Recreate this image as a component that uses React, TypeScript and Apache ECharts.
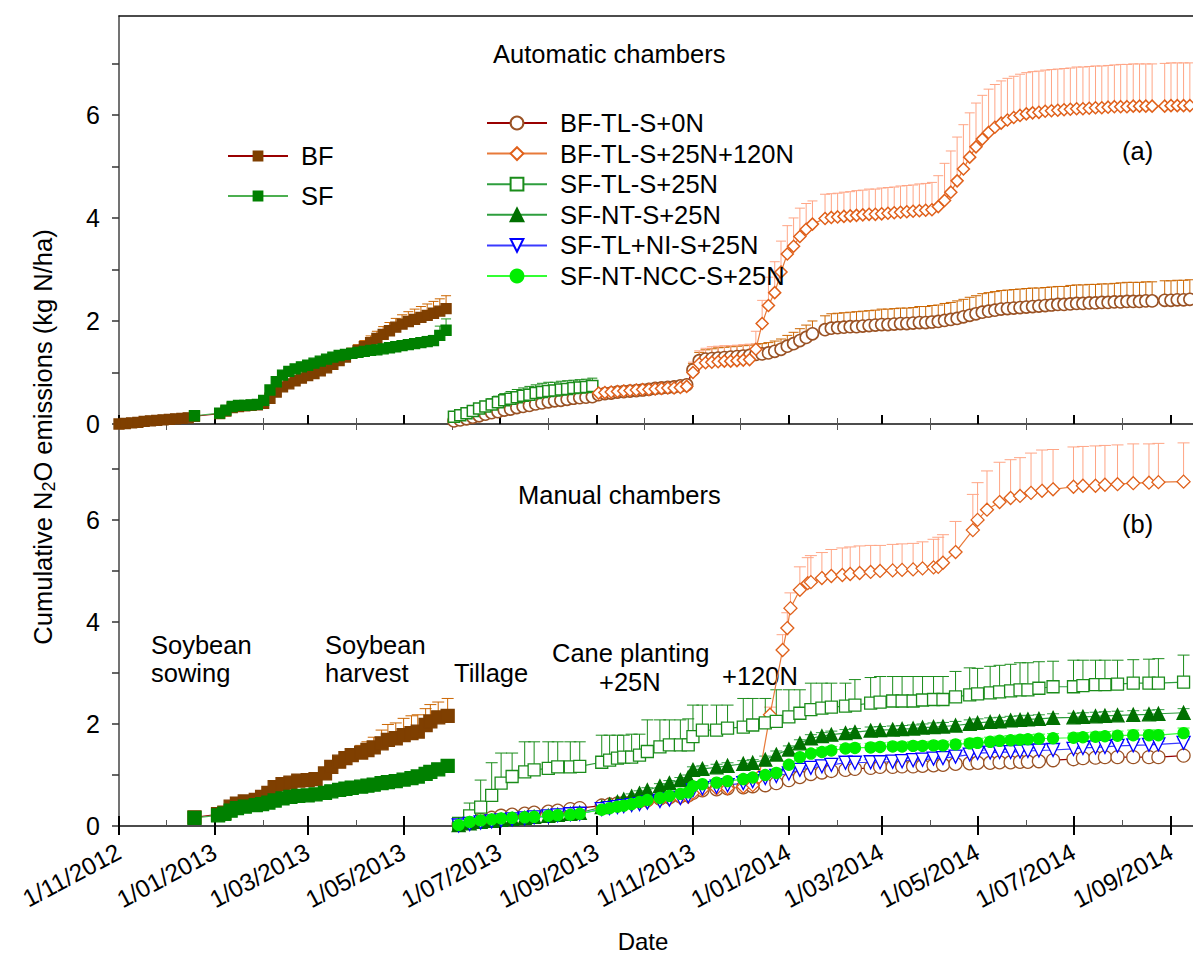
import React, { useEffect, useRef } from 'react';
import * as echarts from 'echarts';

type Pt = [string, number, number];
type V = number | null;

const FONT = 'Liberation Sans';

// ---------- axes ----------
const xStart = '2012-11-01';
const xEnd = '2014-09-15';
const majorTickDates = ['2012-11-01', '2013-01-01', '2013-03-01', '2013-05-01', '2013-07-01', '2013-09-01', '2013-11-01', '2014-01-01', '2014-03-01', '2014-05-01', '2014-07-01', '2014-09-01'];
const tickLabels = ['1/11/2012', '1/01/2013', '1/03/2013', '1/05/2013', '1/07/2013', '1/09/2013', '1/11/2013', '1/01/2014', '1/03/2014', '1/05/2014', '1/07/2014', '1/09/2014'];
const minorTickDates = ['2012-12-01', '2013-02-01', '2013-04-01', '2013-06-01', '2013-08-01', '2013-10-01', '2013-12-01', '2014-02-01', '2014-04-01', '2014-06-01', '2014-08-01'];
const yTicks = [0, 1, 2, 3, 4, 5, 6, 7];
const yLabels = [0, 2, 4, 6];
const yMaxTop = 7.92;
const yMaxBottom = 7.88;

// ---------- (a) automatic chambers: logged every 4 days ----------
const autoStepDays = 4;
const autoStart1 = '2012-11-01';
const autoBFVals: V[] = [
  0.0, 0.01, 0.02, 0.03, 0.05, 0.06, 0.07, 0.08, 0.09, 0.1, 0.11, 0.12,
  0.15, null, null, null,
  0.2, 0.25, 0.32, 0.34, 0.35, 0.36, 0.37,
  0.4, 0.5, 0.62, 0.72, 0.78, 0.84, 0.89,
  0.94, 0.98, 1.03, 1.09, 1.16, 1.23, 1.3, 1.37,
  1.43, 1.5, 1.58, 1.66, 1.74, 1.81, 1.88, 1.94,
  1.99, 2.03, 2.07, 2.11, 2.15, 2.19, 2.24,
];
const autoBFErr: number[] = [
  0.01, 0.01, 0.01, 0.01, 0.01, 0.01, 0.01, 0.01, 0.02, 0.02, 0.02, 0.02,
  0.02, 0, 0, 0,
  0.02, 0.02, 0.03, 0.03, 0.03, 0.03, 0.03,
  0.03, 0.03, 0.04, 0.04, 0.04, 0.05, 0.05,
  0.05, 0.05, 0.06, 0.06, 0.07, 0.08, 0.09, 0.1,
  0.11, 0.12, 0.13, 0.14, 0.15, 0.16, 0.17, 0.18,
  0.19, 0.2, 0.21, 0.22, 0.23, 0.24, 0.25,
];
const autoSFVals: V[] = [
  null, null, null, null, null, null, null, null, null, null, null, null,
  0.16, null, null, null,
  0.21, 0.27, 0.34, 0.36, 0.36, 0.37, 0.38,
  0.46, 0.66, 0.82, 0.95, 1.02, 1.07, 1.11,
  1.14, 1.18, 1.22, 1.26, 1.3, 1.33, 1.35, 1.37,
  1.39, 1.41, 1.43, 1.44, 1.46, 1.48, 1.5, 1.52,
  1.54, 1.56, 1.58, 1.6, 1.62, 1.72, 1.82,
];
const autoSFErr: number[] = [
  0, 0, 0, 0, 0, 0, 0, 0, 0, 0, 0, 0,
  0.02, 0, 0, 0,
  0.02, 0.03, 0.03, 0.03, 0.03, 0.03, 0.03,
  0.04, 0.05, 0.05, 0.06, 0.06, 0.06, 0.06,
  0.06, 0.06, 0.06, 0.06, 0.06, 0.06, 0.06, 0.06,
  0.06, 0.06, 0.07, 0.07, 0.07, 0.07, 0.08, 0.08,
  0.08, 0.09, 0.09, 0.1, 0.1, 0.18, 0.22,
];

const autoStart2 = '2013-06-02';
const autoBF0Vals: V[] = [
  0.06, 0.08, 0.1, 0.13, 0.16, 0.19, 0.22, 0.24, 0.27, 0.29, 0.32, 0.34, 0.36, 0.39, 0.41, 0.43, 0.45, 0.46, 0.48, 0.5, 0.51, 0.52, 0.53,
  0.57, 0.59, 0.6, 0.62, 0.63, 0.64, 0.65, 0.66, 0.67, 0.69, 0.7, 0.71, 0.72, 0.74, 0.76,
  1.05, 1.23, 1.26, 1.27, 1.28, 1.29, 1.3, 1.31, 1.32, 1.33, 1.35, 1.36, 1.38, 1.41, 1.45, 1.51,
  1.56, 1.62, 1.68, 1.75, null, 1.83, 1.86,
  1.87, 1.88, 1.89, 1.89, 1.9, 1.91, 1.92, 1.93, 1.93, 1.94, 1.95, 1.95, 1.96, 1.97, 1.97,
  1.98, 1.99, 2.01, 2.03, 2.05, 2.08, 2.11, 2.14, 2.17, 2.19, 2.21, 2.23, 2.24, 2.25, 2.26,
  2.27, 2.28, 2.29, 2.3, 2.31, 2.32, 2.32, 2.33, 2.34, 2.34, 2.35, 2.35, 2.36, 2.36, 2.37, 2.37,
  2.38, 2.38, 2.38, 2.39, 2.39, null, 2.4, 2.4, 2.41, 2.41, 2.42,
];
const autoBF0Err: number[] = [
  0.02, 0.02, 0.02, 0.03, 0.03, 0.03, 0.03, 0.03, 0.04, 0.04, 0.04, 0.04, 0.04, 0.04, 0.05, 0.05, 0.05, 0.05, 0.05, 0.05, 0.05, 0.05, 0.05,
  0.06, 0.06, 0.06, 0.06, 0.06, 0.06, 0.06, 0.06, 0.07, 0.07, 0.07, 0.07, 0.07, 0.07, 0.07,
  0.12, 0.16, 0.18, 0.19, 0.2, 0.2, 0.2, 0.2, 0.2, 0.2, 0.2, 0.2, 0.2, 0.2, 0.2, 0.21,
  0.22, 0.23, 0.24, 0.25, 0, 0.27, 0.28,
  0.28, 0.28, 0.28, 0.29, 0.29, 0.29, 0.29, 0.3, 0.3, 0.3, 0.3, 0.3, 0.3, 0.31, 0.31,
  0.32, 0.32, 0.33, 0.33, 0.34, 0.34, 0.35, 0.35, 0.36, 0.36, 0.36, 0.36, 0.36, 0.36, 0.36,
  0.36, 0.36, 0.35, 0.35, 0.35, 0.35, 0.35, 0.36, 0.36, 0.36, 0.36, 0.36, 0.36, 0.36, 0.36, 0.37,
  0.37, 0.37, 0.37, 0.37, 0.37, 0, 0.38, 0.38, 0.38, 0.38, 0.38,
];
const autoBF145Vals: V[] = [
  null, null, null, null, null, null, null, null, null, null, null, null, null, null, null, null, null, null, null, null, null, null, null,
  0.6, 0.61, 0.62, 0.63, 0.64, 0.65, 0.66, 0.67, 0.67, 0.68, 0.69, 0.7, 0.7, 0.71, 0.73,
  1.0, 1.17, 1.19, 1.2, 1.21, 1.22, 1.22, 1.23, 1.24, 1.25, 1.45, 1.95, 2.3, 2.55, 2.95, 3.3,
  3.45, 3.64, 3.78, 3.88, null, 3.99, 4.01,
  4.02, 4.03, 4.04, 4.05, 4.06, 4.07, 4.07, 4.08, 4.09, 4.1, 4.11, 4.12, 4.13, 4.14, 4.15,
  4.16, 4.22, 4.34, 4.5, 4.72, 4.95, 5.18, 5.38, 5.53, 5.66, 5.76, 5.84, 5.9, 5.95, 5.99,
  6.02, 6.04, 6.05, 6.07, 6.08, 6.09, 6.1, 6.11, 6.12, 6.12, 6.13, 6.14, 6.14, 6.15, 6.16, 6.16,
  6.16, 6.17, 6.17, 6.17, 6.17, null, 6.17, 6.18, 6.18, 6.18, 6.18,
];
const autoBF145Err: number[] = [
  0, 0, 0, 0, 0, 0, 0, 0, 0, 0, 0, 0, 0, 0, 0, 0, 0, 0, 0, 0, 0, 0, 0,
  0.08, 0.08, 0.08, 0.08, 0.08, 0.08, 0.08, 0.08, 0.09, 0.09, 0.09, 0.09, 0.09, 0.09, 0.09,
  0.2, 0.25, 0.28, 0.3, 0.3, 0.3, 0.3, 0.3, 0.3, 0.3, 0.35, 0.45, 0.55, 0.6, 0.6, 0.55,
  0.55, 0.55, 0.5, 0.45, 0, 0.47, 0.46,
  0.46, 0.47, 0.47, 0.48, 0.48, 0.49, 0.49, 0.5, 0.5, 0.5, 0.51, 0.51, 0.51, 0.52, 0.52,
  0.53, 0.6, 0.72, 0.8, 0.85, 0.86, 0.86, 0.85, 0.85, 0.84, 0.83, 0.82, 0.81, 0.8, 0.8,
  0.8, 0.8, 0.8, 0.8, 0.8, 0.8, 0.8, 0.8, 0.81, 0.81, 0.81, 0.81, 0.81, 0.81, 0.81, 0.82,
  0.82, 0.82, 0.82, 0.82, 0.82, 0, 0.83, 0.83, 0.83, 0.83, 0.83,
];
const autoSF25Vals: V[] = [
  0.14, 0.17, 0.21, 0.25, 0.3, 0.34, 0.38, 0.42, 0.46, 0.49, 0.52, 0.55, 0.57, 0.6, 0.62, 0.64, 0.65, 0.67, 0.68, 0.7, 0.71, 0.72, 0.74,
];
const autoSF25Err: number[] = [
  0.05, 0.06, 0.07, 0.08, 0.09, 0.1, 0.11, 0.12, 0.13, 0.14, 0.15, 0.15, 0.16, 0.16, 0.17, 0.17, 0.16, 0.16, 0.16, 0.15, 0.15, 0.15, 0.15,
];

// ---------- (b) manual chambers ----------
const manBF: Pt[] = [
  ['2012-12-19', 0.17, 0.02], ['2013-01-03', 0.23, 0.02], ['2013-01-07', 0.26, 0.02], ['2013-01-11', 0.38, 0.02],
  ['2013-01-15', 0.44, 0.02], ['2013-01-20', 0.48, 0.02], ['2013-01-27', 0.51, 0.02], ['2013-01-31', 0.57, 0.03],
  ['2013-02-04', 0.65, 0.03], ['2013-02-08', 0.76, 0.03], ['2013-02-13', 0.82, 0.03], ['2013-02-18', 0.85, 0.03],
  ['2013-02-23', 0.89, 0.04], ['2013-03-01', 0.9, 0.04], ['2013-03-06', 0.92, 0.05], ['2013-03-12', 1.03, 0.06],
  ['2013-03-16', 1.16, 0.08], ['2013-03-21', 1.26, 0.1], ['2013-03-25', 1.33, 0.12], ['2013-03-29', 1.39, 0.12],
  ['2013-04-04', 1.44, 0.14], ['2013-04-08', 1.49, 0.16], ['2013-04-12', 1.54, 0.2], ['2013-04-17', 1.62, 0.26],
  ['2013-04-21', 1.69, 0.3], ['2013-04-26', 1.72, 0.3], ['2013-05-01', 1.78, 0.33], ['2013-05-06', 1.82, 0.34],
  ['2013-05-10', 1.85, 0.33], ['2013-05-15', 1.98, 0.32], ['2013-05-18', 2.05, 0.33], ['2013-05-23', 2.13, 0.3],
  ['2013-05-29', 2.16, 0.34],
];
const manSF: Pt[] = [
  ['2012-12-19', 0.16, 0.01], ['2013-01-03', 0.21, 0.01], ['2013-01-07', 0.24, 0.01], ['2013-01-11', 0.3, 0.01],
  ['2013-01-15', 0.35, 0.02], ['2013-01-20', 0.38, 0.02], ['2013-01-27', 0.41, 0.02], ['2013-01-31', 0.43, 0.02],
  ['2013-02-04', 0.46, 0.02], ['2013-02-08', 0.5, 0.02], ['2013-02-13', 0.54, 0.02], ['2013-02-18', 0.57, 0.02],
  ['2013-02-23', 0.59, 0.02], ['2013-03-01', 0.6, 0.02], ['2013-03-06', 0.62, 0.02], ['2013-03-12', 0.65, 0.02],
  ['2013-03-16', 0.68, 0.02], ['2013-03-21', 0.71, 0.03], ['2013-03-25', 0.73, 0.03], ['2013-03-29', 0.75, 0.03],
  ['2013-04-04', 0.77, 0.03], ['2013-04-08', 0.79, 0.03], ['2013-04-12', 0.81, 0.03], ['2013-04-17', 0.84, 0.03],
  ['2013-04-21', 0.86, 0.03], ['2013-04-26', 0.88, 0.03], ['2013-05-01', 0.91, 0.03], ['2013-05-06', 0.94, 0.03],
  ['2013-05-10', 0.97, 0.03], ['2013-05-15', 1.02, 0.03], ['2013-05-18', 1.06, 0.03], ['2013-05-23', 1.11, 0.03],
  ['2013-05-29', 1.18, 0.03],
];

const manDates = [
  '2013-06-05', '2013-06-12', '2013-06-19', '2013-06-26', '2013-07-02', '2013-07-09', '2013-07-17', '2013-07-23', '2013-08-01', '2013-08-07', '2013-08-15', '2013-08-21',
  '2013-09-04', '2013-09-09', '2013-09-14', '2013-09-18', '2013-09-23', '2013-09-28', '2013-10-03', '2013-10-11', '2013-10-17', '2013-10-24', '2013-10-29',
  '2013-11-01', '2013-11-07', '2013-11-16', '2013-11-23',
  '2013-12-03', '2013-12-09', '2013-12-17', '2013-12-24',
  '2014-01-01', '2014-01-08', '2014-01-15', '2014-01-22', '2014-01-28',
  '2014-02-06', '2014-02-12', '2014-02-22', '2014-02-28',
  '2014-03-08', '2014-03-14', '2014-03-21', '2014-03-27',
  '2014-04-03', '2014-04-09', '2014-04-17', '2014-04-26',
  '2014-05-01', '2014-05-09', '2014-05-15', '2014-05-22', '2014-05-28',
  '2014-06-02', '2014-06-09', '2014-06-18',
  '2014-07-01', '2014-07-07', '2014-07-15', '2014-07-21', '2014-07-29',
  '2014-08-08', '2014-08-18', '2014-08-24',
  '2014-09-09',
];
const manBF0Vals = [
  0.03, 0.08, 0.12, 0.16, 0.2, 0.22, 0.24, 0.26, 0.28, 0.3, 0.33, 0.35,
  0.4, 0.42, 0.44, 0.45, 0.47, 0.49, 0.51, 0.54, 0.56, 0.58, 0.6,
  0.65, 0.7, 0.72, 0.74,
  0.76, 0.78, 0.8, 0.84,
  0.9, 0.96, 1.02, 1.05, 1.08,
  1.1, 1.12, 1.14, 1.16,
  1.16, 1.17, 1.17, 1.18,
  1.19, 1.2, 1.22, 1.23,
  1.24, 1.24, 1.25, 1.25, 1.26,
  1.26, 1.27, 1.29,
  1.31, 1.33, 1.34, 1.35, 1.35,
  1.35, 1.35, 1.35,
  1.38,
];
const manBF0Err = [
  0.01, 0.02, 0.02, 0.02, 0.02, 0.02, 0.02, 0.02, 0.02, 0.02, 0.02, 0.02,
  0.03, 0.03, 0.03, 0.03, 0.03, 0.03, 0.03, 0.03, 0.03, 0.03, 0.03,
  0.03, 0.04, 0.04, 0.04,
  0.04, 0.04, 0.04, 0.04,
  0.04, 0.04, 0.05, 0.05, 0.05,
  0.05, 0.05, 0.05, 0.05,
  0.05, 0.05, 0.05, 0.05,
  0.05, 0.05, 0.05, 0.05,
  0.05, 0.05, 0.05, 0.05, 0.05,
  0.05, 0.05, 0.05,
  0.05, 0.05, 0.05, 0.05, 0.05,
  0.05, 0.05, 0.05,
  0.05,
];
const manSF25Vals = [
  0.05, 0.2, 0.37, 0.6, 0.84, 0.97, 1.06, 1.1, 1.13, 1.16, 1.16, 1.17,
  1.25, 1.29, 1.33, 1.35, 1.35, 1.39, 1.46, 1.55, 1.59, 1.59, 1.59,
  1.75, 1.88, 1.88, 1.92,
  1.94, 1.98, 2.02, 2.05,
  2.14, 2.21, 2.28, 2.31, 2.33,
  2.35, 2.37, 2.41, 2.43,
  2.45, 2.45, 2.45, 2.47,
  2.48, 2.48, 2.53, 2.57,
  2.59, 2.61, 2.63, 2.65, 2.67,
  2.67, 2.7, 2.73,
  2.73, 2.75, 2.77, 2.77, 2.78,
  2.8, 2.8, 2.8,
  2.82,
];
const manSF25Err = [
  0.05, 0.25, 0.53, 0.64, 0.59, 0.46, 0.59, 0.55, 0.52, 0.49, 0.49, 0.48,
  0.53, 0.49, 0.45, 0.43, 0.45, 0.41, 0.62, 0.53, 0.49, 0.49, 0.51,
  0.62, 0.49, 0.49, 0.45,
  0.56, 0.52, 0.48, 0.62,
  0.53, 0.46, 0.52, 0.49, 0.47,
  0.45, 0.5, 0.5, 0.5,
  0.48, 0.48, 0.48, 0.46,
  0.45, 0.45, 0.5, 0.53,
  0.5, 0.52, 0.52, 0.52, 0.53,
  0.53, 0.52, 0.5,
  0.52, 0.5, 0.48, 0.48, 0.47,
  0.46, 0.47, 0.48,
  0.53,
];
const manNTVals = [
  0.02, 0.05, 0.08, 0.1, 0.12, 0.14, 0.16, 0.18, 0.2, 0.22, 0.24, 0.26,
  0.37, 0.42, 0.47, 0.52, 0.58, 0.64, 0.7, 0.78, 0.84, 0.9, 0.95,
  1.1, 1.12, 1.15, 1.18,
  1.22, 1.24, 1.3, 1.4,
  1.5, 1.62, 1.72, 1.76, 1.79,
  1.82, 1.84, 1.87, 1.88,
  1.89, 1.9, 1.91, 1.93,
  1.94, 1.95, 1.97, 2.0,
  2.02, 2.04, 2.05, 2.07, 2.08,
  2.09, 2.1, 2.12,
  2.13, 2.14, 2.15, 2.16, 2.17,
  2.18, 2.19, 2.2,
  2.22,
];
const manNTErr = [
  0.01, 0.02, 0.02, 0.02, 0.03, 0.03, 0.03, 0.03, 0.03, 0.03, 0.03, 0.03,
  0.04, 0.04, 0.04, 0.04, 0.05, 0.05, 0.05, 0.05, 0.05, 0.05, 0.05,
  0.06, 0.06, 0.06, 0.06,
  0.06, 0.06, 0.07, 0.07,
  0.07, 0.07, 0.07, 0.07, 0.07,
  0.07, 0.07, 0.07, 0.07,
  0.07, 0.07, 0.07, 0.07,
  0.08, 0.08, 0.08, 0.08,
  0.08, 0.08, 0.08, 0.08, 0.08,
  0.08, 0.08, 0.08,
  0.08, 0.08, 0.08, 0.08, 0.08,
  0.08, 0.08, 0.08,
  0.08,
];
const manNIVals = [
  0.01, 0.04, 0.07, 0.09, 0.11, 0.13, 0.15, 0.17, 0.19, 0.21, 0.23, 0.24,
  0.33, 0.35, 0.37, 0.39, 0.41, 0.43, 0.46, 0.49, 0.52, 0.55, 0.58,
  0.7, 0.74, 0.77, 0.8,
  0.84, 0.88, 0.94, 0.98,
  1.03, 1.1, 1.14, 1.17, 1.2,
  1.24, 1.24, 1.25, 1.25,
  1.26, 1.27, 1.29, 1.3,
  1.32, 1.33, 1.36, 1.4,
  1.43, 1.44, 1.45, 1.45, 1.46,
  1.47, 1.48, 1.49,
  1.51, 1.53, 1.54, 1.55, 1.57,
  1.58, 1.59, 1.6,
  1.63,
];
const manNIErr = [
  0.01, 0.01, 0.02, 0.02, 0.02, 0.02, 0.02, 0.02, 0.02, 0.02, 0.02, 0.02,
  0.03, 0.03, 0.03, 0.03, 0.03, 0.03, 0.03, 0.03, 0.03, 0.03, 0.03,
  0.04, 0.04, 0.04, 0.04,
  0.04, 0.04, 0.05, 0.05,
  0.05, 0.05, 0.05, 0.05, 0.05,
  0.05, 0.05, 0.05, 0.05,
  0.05, 0.05, 0.05, 0.05,
  0.05, 0.05, 0.05, 0.05,
  0.05, 0.05, 0.05, 0.05, 0.05,
  0.06, 0.06, 0.06,
  0.06, 0.06, 0.06, 0.06, 0.06,
  0.06, 0.06, 0.06,
  0.06,
];
const manNCCVals = [
  0.02, 0.08, 0.11, 0.13, 0.15, 0.16, 0.17, 0.18, 0.2, 0.21, 0.22, 0.24,
  0.32, 0.35, 0.38, 0.4, 0.43, 0.47, 0.51, 0.55, 0.59, 0.63, 0.66,
  0.78, 0.82, 0.85, 0.88,
  0.92, 0.95, 1.0, 1.04,
  1.2, 1.35, 1.42, 1.45, 1.48,
  1.52, 1.53, 1.54, 1.55,
  1.56, 1.56, 1.57, 1.57,
  1.58, 1.58, 1.6, 1.62,
  1.63, 1.65, 1.67, 1.68, 1.69,
  1.7, 1.71, 1.72,
  1.73, 1.74, 1.75, 1.76, 1.77,
  1.78, 1.78, 1.78,
  1.82,
];
const manNCCErr = [
  0.01, 0.02, 0.02, 0.02, 0.02, 0.02, 0.02, 0.02, 0.02, 0.02, 0.02, 0.02,
  0.03, 0.03, 0.03, 0.03, 0.04, 0.04, 0.04, 0.04, 0.04, 0.04, 0.04,
  0.05, 0.05, 0.05, 0.05,
  0.06, 0.06, 0.06, 0.06,
  0.07, 0.07, 0.08, 0.08, 0.08,
  0.08, 0.08, 0.08, 0.08,
  0.08, 0.08, 0.08, 0.08,
  0.08, 0.08, 0.08, 0.08,
  0.09, 0.09, 0.09, 0.09, 0.09,
  0.09, 0.09, 0.09,
  0.09, 0.09, 0.09, 0.09, 0.09,
  0.1, 0.1, 0.1,
  0.1,
];
const manBF145: Pt[] = [
  ['2013-09-04', 0.35, 0.02], ['2013-09-09', 0.37, 0.02], ['2013-09-14', 0.39, 0.02], ['2013-09-18', 0.41, 0.02],
  ['2013-09-23', 0.43, 0.02], ['2013-09-28', 0.45, 0.02], ['2013-10-03', 0.47, 0.02], ['2013-10-11', 0.51, 0.03],
  ['2013-10-17', 0.53, 0.03], ['2013-10-24', 0.55, 0.03], ['2013-10-29', 0.57, 0.03], ['2013-11-01', 0.65, 0.03],
  ['2013-11-07', 0.71, 0.03], ['2013-11-16', 0.74, 0.04], ['2013-11-23', 0.74, 0.04], ['2013-12-03', 0.77, 0.04],
  ['2013-12-09', 0.8, 0.05], ['2013-12-13', 0.96, 0.05], ['2013-12-20', 2.18, 0.15], ['2013-12-28', 3.45, 0.3],
  ['2013-12-31', 3.88, 0.3], ['2014-01-02', 4.27, 0.3], ['2014-01-08', 4.63, 0.45], ['2014-01-13', 4.76, 0.5],
  ['2014-01-15', 4.78, 0.52], ['2014-01-22', 4.86, 0.5], ['2014-01-28', 4.9, 0.52], ['2014-02-04', 4.92, 0.53],
  ['2014-02-09', 4.94, 0.53], ['2014-02-15', 4.96, 0.53], ['2014-02-22', 4.98, 0.52], ['2014-02-28', 5.0, 0.5],
  ['2014-03-08', 5.01, 0.51], ['2014-03-14', 5.02, 0.51], ['2014-03-21', 5.03, 0.51], ['2014-03-27', 5.05, 0.52],
  ['2014-04-03', 5.07, 0.55], ['2014-04-06', 5.08, 0.58], ['2014-04-09', 5.16, 0.55], ['2014-04-17', 5.37, 0.6],
  ['2014-04-28', 5.8, 0.7], ['2014-05-01', 6.0, 0.73], ['2014-05-07', 6.2, 0.76], ['2014-05-15', 6.35, 0.78],
  ['2014-05-22', 6.43, 0.75], ['2014-05-28', 6.47, 0.75], ['2014-06-04', 6.53, 0.78], ['2014-06-11', 6.57, 0.8],
  ['2014-06-18', 6.6, 0.78], ['2014-07-01', 6.65, 0.78], ['2014-07-07', 6.67, 0.77], ['2014-07-15', 6.67, 0.78],
  ['2014-07-21', 6.69, 0.77], ['2014-07-29', 6.7, 0.77], ['2014-08-08', 6.72, 0.77], ['2014-08-18', 6.73, 0.76],
  ['2014-08-24', 6.74, 0.76], ['2014-09-09', 6.75, 0.76],
];

// ---------- helpers ----------
type Row = [number, number | string, number];

function ts(s: string): number {
  const [y, m, d] = s.split('-').map(Number);
  return new Date(y, m - 1, d).getTime();
}
function fromPts(pts: Pt[]): Row[] {
  return pts.map((p) => [ts(p[0]), p[1], p[2]] as Row);
}
function fromMan(vals: number[], errs: number[]): Row[] {
  return manDates.map((d, i) => [ts(d), vals[i], errs[i]] as Row);
}
function fromLog(start: string, vals: V[], errs: number[]): Row[] {
  const [y, m, d] = start.split('-').map(Number);
  return vals.map((v, i) => [new Date(y, m - 1, d + i * autoStepDays).getTime(), v == null ? '-' : v, errs[i]] as Row);
}

interface Look {
  symbol: string;
  size: number;
  line: string;
  stroke: string;
  fill: string;
  rotate?: number;
  border?: number;
}

function lineSeries(name: string, rows: Row[], look: Look, xi: number, yi: number, z: number) {
  return {
    type: 'line',
    name,
    xAxisIndex: xi,
    yAxisIndex: yi,
    data: rows.map((r) => [r[0], r[1]]),
    connectNulls: true,
    symbol: look.symbol,
    symbolSize: look.size,
    symbolRotate: look.rotate || 0,
    showSymbol: true,
    showAllSymbol: true,
    lineStyle: { color: look.line, width: 1.2 },
    itemStyle: { color: look.fill, borderColor: look.stroke, borderWidth: look.border ?? 1.3, opacity: 1 },
    emphasis: { disabled: true },
    silent: true,
    clip: true,
    z,
  };
}

function errSeries(rows: Row[], color: string, cap: number, xi: number, yi: number, z: number) {
  return {
    type: 'custom',
    xAxisIndex: xi,
    yAxisIndex: yi,
    data: rows.map((r) => [r[0], r[1], r[2]]),
    encode: { x: 0, y: 1 },
    silent: true,
    z,
    renderItem: (_params: any, api: any) => {
      const x = api.value(0);
      const v = api.value(1);
      const e = api.value(2);
      if (!isFinite(v) || !isFinite(e) || e <= 0) return null;
      const p0 = api.coord([x, v]);
      const p1 = api.coord([x, v + e]);
      return {
        type: 'group',
        children: [
          { type: 'line', shape: { x1: p0[0], y1: p0[1], x2: p1[0], y2: p1[1] }, style: { stroke: color, lineWidth: 1 } },
          { type: 'line', shape: { x1: p1[0] - cap, y1: p1[1], x2: p1[0] + cap, y2: p1[1] }, style: { stroke: color, lineWidth: 1 } },
        ],
      };
    },
  };
}

const LOOK_BF: Look = { symbol: 'rect', size: 10, line: '#990000', stroke: '#7F3F00', fill: '#7F3F00' };
const LOOK_SF: Look = { symbol: 'rect', size: 10, line: '#4CAF50', stroke: '#008000', fill: '#008000' };
const LOOK_BF0: Look = { symbol: 'circle', size: 13, line: '#990000', stroke: '#9A5224', fill: '#ffffff' };
const LOOK_BF145: Look = { symbol: 'diamond', size: 13, line: '#E87A3A', stroke: '#E0601A', fill: '#ffffff' };
const LOOK_SF25: Look = { symbol: 'rect', size: 12, line: '#2E9E3E', stroke: '#1A8C1A', fill: '#ffffff' };
const LOOK_NT: Look = { symbol: 'triangle', size: 13, line: '#2E9E3E', stroke: '#007000', fill: '#007000' };
const LOOK_NI: Look = { symbol: 'triangle', size: 13, line: '#3A3AFF', stroke: '#0000FF', fill: '#ffffff', rotate: 180 };
const LOOK_NCC: Look = { symbol: 'circle', size: 11, line: '#33FF33', stroke: '#00EE00', fill: '#00EE00' };

function labelFor(v: number): string {
  const tm = majorTickDates.map(ts);
  let best = 0;
  for (let i = 1; i < tm.length; i++) if (Math.abs(tm[i] - v) < Math.abs(tm[best] - v)) best = i;
  return tickLabels[best];
}

function buildOption(): any {
  const tMaj = majorTickDates.map(ts);
  const tMin = minorTickDates.map(ts);
  const xBase = {
    type: 'value',
    min: ts(xStart),
    max: ts(xEnd),
    splitLine: { show: false },
    axisLabel: { show: false },
    axisTick: { show: false },
    axisLine: { show: false },
  };
  const majTick = (len: number) => ({ show: true, inside: true, length: len, customValues: tMaj, lineStyle: { color: '#000', width: 2 } });
  const minTick = (len: number) => ({ show: true, inside: true, length: len, customValues: tMin, lineStyle: { color: '#555', width: 1 } });
  const axisLineStyle = { show: true, lineStyle: { color: '#111', width: 1.5 } };

  const yBase = (gi: number, max: number) => ({
    type: 'value',
    gridIndex: gi,
    min: 0,
    max,
    splitLine: { show: false },
    axisLine: { show: true, lineStyle: { color: '#444', width: 1.5 } },
    axisTick: { show: true, inside: false, length: 7, customValues: yTicks, lineStyle: { color: '#333', width: 1.5 } },
    axisLabel: { show: true, customValues: yLabels, fontSize: 25, fontFamily: FONT, color: '#000', margin: 19 },
  });

  const txt = (text: string, x: number, y: number, size = 25.5, align = 'left') => ({
    type: 'text',
    x,
    y,
    silent: true,
    style: { fontSize: size, fontFamily: FONT, fill: '#000', text, align, verticalAlign: 'middle', textAlign: align, textVerticalAlign: 'middle' },
  });

  const aBF = fromLog(autoStart1, autoBFVals, autoBFErr);
  const aSF = fromLog(autoStart1, autoSFVals, autoSFErr);
  const aBF0 = fromLog(autoStart2, autoBF0Vals, autoBF0Err);
  const aBF145 = fromLog(autoStart2, autoBF145Vals, autoBF145Err);
  const aSF25 = fromLog(autoStart2, autoSF25Vals, autoSF25Err);

  const series: any[] = [
    // top panel
    errSeries(aBF, '#CC6600', 5, 0, 0, 1),
    errSeries(aSF, '#1F9A1F', 5, 0, 0, 1),
    lineSeries('BF', aBF, LOOK_BF, 0, 0, 3),
    lineSeries('SF', aSF, LOOK_SF, 0, 0, 3),
    errSeries(aBF0, '#CC6600', 5, 0, 0, 1),
    errSeries(aBF145, '#FFA585', 5, 0, 0, 1),
    errSeries(aSF25, '#1A8C1A', 5, 0, 0, 1),
    lineSeries('BF-TL-S+0N', aBF0, { ...LOOK_BF0, size: 12, border: 1.6 }, 0, 0, 3),
    lineSeries('SF-TL-S+25N', aSF25, { ...LOOK_SF25, size: 11, border: 1.5 }, 0, 0, 3),
    lineSeries('BF-TL-S+25N+120N', aBF145, { ...LOOK_BF145, size: 12, border: 1.5 }, 0, 0, 3),
    // bottom panel
    errSeries(fromPts(manBF), '#CC6600', 6, 5, 1, 1),
    errSeries(fromPts(manSF), '#1F9A1F', 6, 5, 1, 1),
    lineSeries('BF', fromPts(manBF), { ...LOOK_BF, size: 13 }, 5, 1, 3),
    lineSeries('SF', fromPts(manSF), { ...LOOK_SF, size: 13 }, 5, 1, 3),
    errSeries(fromMan(manBF0Vals, manBF0Err), '#B8651E', 6, 5, 1, 1),
    errSeries(fromPts(manBF145), '#FFA585', 6, 5, 1, 1),
    errSeries(fromMan(manSF25Vals, manSF25Err), '#1A8C1A', 6, 5, 1, 1),
    errSeries(fromMan(manNTVals, manNTErr), '#2E9E3E', 6, 5, 1, 1),
    errSeries(fromMan(manNIVals, manNIErr), '#3A3AFF', 6, 5, 1, 1),
    errSeries(fromMan(manNCCVals, manNCCErr), '#33FF33', 6, 5, 1, 1),
    lineSeries('BF-TL-S+0N', fromMan(manBF0Vals, manBF0Err), LOOK_BF0, 5, 1, 3),
    lineSeries('BF-TL-S+25N+120N', fromPts(manBF145), LOOK_BF145, 5, 1, 3),
    lineSeries('SF-TL-S+25N', fromMan(manSF25Vals, manSF25Err), LOOK_SF25, 5, 1, 3),
    lineSeries('SF-NT-S+25N', fromMan(manNTVals, manNTErr), LOOK_NT, 5, 1, 3),
    lineSeries('SF-TL+NI-S+25N', fromMan(manNIVals, manNIErr), LOOK_NI, 5, 1, 3),
    lineSeries('SF-NT-NCC-S+25N', fromMan(manNCCVals, manNCCErr), LOOK_NCC, 5, 1, 3),
  ];

  const legendText = { fontSize: 25.5, fontFamily: FONT, color: '#000', lineHeight: 26, padding: [0, 0, 0, 8] };

  return {
    animation: false,
    backgroundColor: '#ffffff',
    grid: [
      { left: 119, top: 16, width: 1074, height: 408 },
      { left: 119, top: 424, width: 1074, height: 402 },
    ],
    xAxis: [
      { ...xBase, gridIndex: 0, position: 'bottom', axisLine: axisLineStyle, axisTick: majTick(9) },
      { ...xBase, gridIndex: 0, position: 'bottom', axisTick: minTick(6) },
      { ...xBase, gridIndex: 0, position: 'top', axisLine: axisLineStyle },
      { ...xBase, gridIndex: 1, position: 'top', axisTick: majTick(9) },
      { ...xBase, gridIndex: 1, position: 'top', axisTick: minTick(6) },
      {
        ...xBase,
        gridIndex: 1,
        position: 'bottom',
        axisLine: axisLineStyle,
        axisTick: majTick(10),
        axisLabel: {
          show: true,
          customValues: tMaj,
          rotate: 28,
          margin: 24,
          fontSize: 24.5,
          fontFamily: FONT,
          color: '#000',
          showMinLabel: true,
          showMaxLabel: true,
          formatter: (v: number) => labelFor(v),
        },
      },
      { ...xBase, gridIndex: 1, position: 'bottom', axisTick: minTick(6) },
    ],
    yAxis: [yBase(0, yMaxTop), yBase(1, yMaxBottom)],
    legend: [
      {
        orient: 'vertical',
        left: 227,
        top: 143,
        padding: 0,
        itemWidth: 60,
        itemHeight: 11,
        itemGap: 14,
        selectedMode: false,
        textStyle: legendText,
        data: ['BF', 'SF'],
      },
      {
        orient: 'vertical',
        left: 486,
        top: 110,
        padding: 0,
        itemWidth: 60,
        itemHeight: 16,
        itemGap: 4.6,
        selectedMode: false,
        textStyle: legendText,
        data: ['BF-TL-S+0N', 'BF-TL-S+25N+120N', 'SF-TL-S+25N', 'SF-NT-S+25N', 'SF-TL+NI-S+25N', 'SF-NT-NCC-S+25N'],
      },
    ],
    graphic: [
      txt('Automatic chambers', 493, 54),
      txt('(a)', 1122, 151),
      txt('Manual chambers', 518, 495),
      txt('(b)', 1122, 524),
      txt('Soybean', 151, 645),
      txt('sowing', 151, 673),
      txt('Soybean', 325, 645),
      txt('harvest', 325, 673),
      txt('Tillage', 454, 673),
      txt('Cane planting', 552, 653),
      txt('+25N', 599, 682),
      txt('+120N', 722, 676),
      txt('Date', 643, 941, 24, 'center'),
      {
        type: 'text',
        x: 43,
        y: 437,
        rotation: Math.PI / 2,
        silent: true,
        style: {
          text: 'Cumulative N{s|2}O emissions (kg N/ha)',
          fontSize: 25.5,
          fontFamily: FONT,
          fill: '#000',
          align: 'center',
          verticalAlign: 'middle',
          textAlign: 'center',
          textVerticalAlign: 'middle',
          rich: { s: { fontSize: 18, fontFamily: FONT, fill: '#000', padding: [12, 0, 0, 0] } },
        },
      },
    ],
    series,
  };
}

export default function App() {
  const ref = useRef<HTMLDivElement>(null);
  useEffect(() => {
    if (!ref.current) return;
    const chart = echarts.init(ref.current, null, { renderer: 'svg' });
    chart.setOption(buildOption());
    return () => chart.dispose();
  }, []);
  return (
    <div
      ref={ref}
      style={{ position: 'absolute', left: 0, top: 0, width: 1193, height: 954, background: '#fff' }}
    />
  );
}
